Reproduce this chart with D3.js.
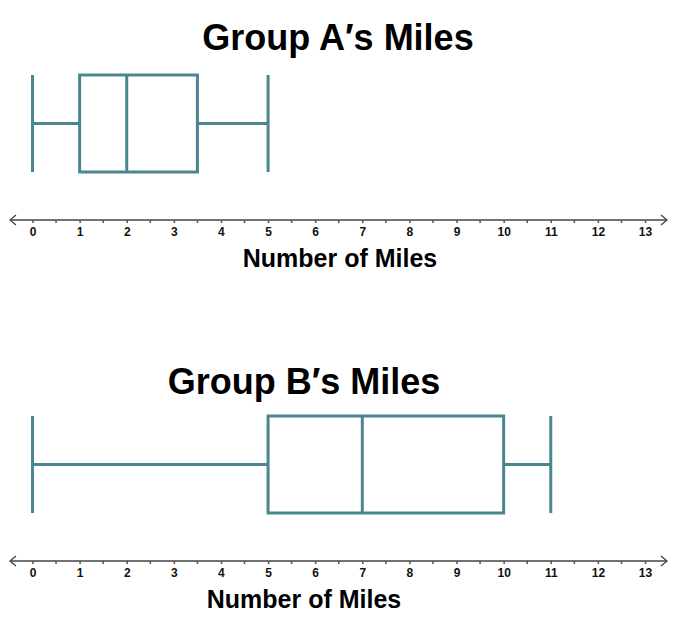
<!DOCTYPE html>
<html>
<head>
<meta charset="utf-8">
<script src="https://cdn.jsdelivr.net/npm/d3@7"></script>
<style>
  html, body { margin: 0; padding: 0; background: #fff; }
  svg { display: block; }
</style>
</head>
<body>
<svg id="chart" width="692" height="628"></svg>
<script>
// ---- data ----
const groups = ["Group A\u2032s Miles", "Group B\u2032s Miles"];
const mins = [0, 0];
const q1s = [1, 5];
const medians = [2, 7];
const q3s = [3.5, 10];
const maxs = [5, 11];
const tickValues = [0,1,2,3,4,5,6,7,8,9,10,11,12,13];
const axisTitle = "Number of Miles";

// ---- layout ----
const svg = d3.select("#chart");
const x = d3.scaleLinear().domain([0, 13]).range([32.5, 645]);
const color = "#4b8591";
const panels = [
  { titleX: 338, titleY: 50, boxTop: 75, boxBot: 172, axisY: 220, labelX: 340, labelY: 267 },
  { titleX: 304, titleY: 394, boxTop: 416, boxBot: 513, axisY: 561, labelX: 304, labelY: 608 }
];

groups.forEach((g, i) => {
  const p = panels[i];
  const G = svg.append("g");

  G.append("text")
    .attr("x", p.titleX).attr("y", p.titleY)
    .attr("text-anchor", "middle")
    .attr("font-family", "'Liberation Sans', Arial, sans-serif")
    .attr("font-weight", "bold")
    .attr("font-size", 36)
    .attr("fill", "#000")
    .text(g);

  const mid = (p.boxTop + p.boxBot) / 2;
  const st = { stroke: color, "stroke-width": 3, fill: "none" };
  const line = (x1, y1, x2, y2) => {
    const l = G.append("line").attr("x1", x1).attr("y1", y1).attr("x2", x2).attr("y2", y2);
    Object.entries(st).forEach(([k, v]) => l.attr(k, v));
    return l;
  };
  // whiskers
  line(x(mins[i]), mid, x(q1s[i]), mid);
  line(x(q3s[i]), mid, x(maxs[i]), mid);
  line(x(mins[i]), p.boxTop, x(mins[i]), p.boxBot);
  line(x(maxs[i]), p.boxTop, x(maxs[i]), p.boxBot);
  // box
  G.append("rect")
    .attr("x", x(q1s[i])).attr("y", p.boxTop)
    .attr("width", x(q3s[i]) - x(q1s[i]))
    .attr("height", p.boxBot - p.boxTop)
    .attr("fill", "none").attr("stroke", color).attr("stroke-width", 3);
  line(x(medians[i]), p.boxTop, x(medians[i]), p.boxBot);

  // axis
  const axisG = G.append("g").attr("transform", `translate(0,${p.axisY})`);
  axisG.append("line")
    .attr("x1", 10).attr("x2", 667).attr("y1", 0).attr("y2", 0)
    .attr("stroke", "#444").attr("stroke-width", 1.5);
  axisG.append("path")
    .attr("d", "M16,-5 L10,0 L16,5")
    .attr("fill", "none").attr("stroke", "#444").attr("stroke-width", 1.3);
  axisG.append("path")
    .attr("d", "M661,-5 L667,0 L661,5")
    .attr("fill", "none").attr("stroke", "#444").attr("stroke-width", 1.3);

  const axis = d3.axisBottom(x)
    .tickValues(tickValues)
    .tickSize(3)
    .tickPadding(4)
    .tickFormat(d3.format("d"));
  const ag = axisG.append("g").call(axis);
  ag.select(".domain").remove();
  ag.selectAll(".tick line").attr("stroke", "#555").attr("stroke-width", 1.5);
  ag.selectAll(".tick text")
    .attr("font-family", "'Liberation Sans', Arial, sans-serif")
    .attr("font-weight", "bold")
    .attr("font-size", 12)
    .attr("fill", "#111");
  // half ticks
  const halves = d3.range(0.5, 13, 1);
  axisG.selectAll("line.half").data(halves).enter().append("line")
    .attr("class", "half")
    .attr("x1", d => x(d)).attr("x2", d => x(d))
    .attr("y1", 0).attr("y2", 3)
    .attr("stroke", "#555").attr("stroke-width", 1.5);

  G.append("text")
    .attr("x", p.labelX).attr("y", p.labelY)
    .attr("text-anchor", "middle")
    .attr("font-family", "'Liberation Sans', Arial, sans-serif")
    .attr("font-weight", "bold")
    .attr("font-size", 25)
    .attr("fill", "#000")
    .text(axisTitle);
});
</script>
</body>
</html>
